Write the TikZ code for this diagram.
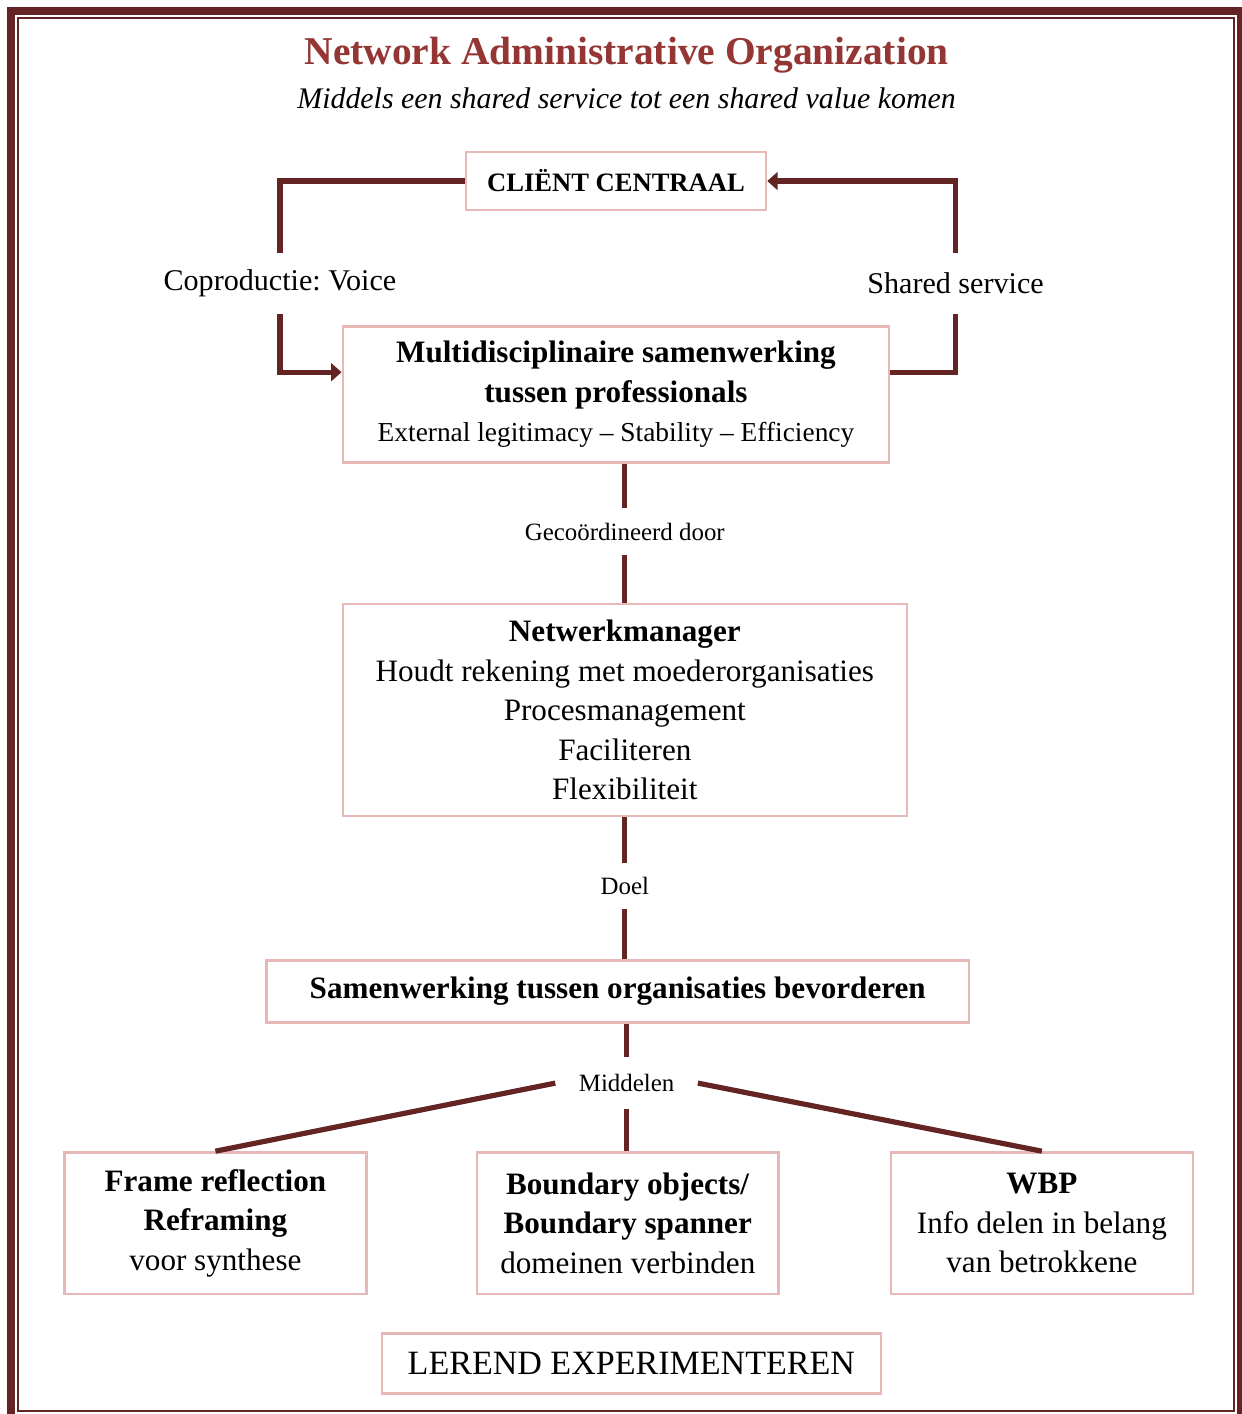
\documentclass[tikz,border=0pt]{standalone}
\usepackage{fontspec}
\setmainfont{Liberation Serif}
\usepackage{xcolor}
\usepackage{tikz}
\usetikzlibrary{arrows.meta, positioning, calc, backgrounds}
\definecolor{linkred}{RGB}{99, 36, 35}
\definecolor{boxline}{RGB}{230, 184, 183}
\definecolor{titlered}{RGB}{148, 54, 52}
\frenchspacing
\tikzset{
    font=\fontsize{15}{19}\selectfont,
    box/.style={rectangle, draw=boxline, line width=1.2pt, align=center, inner sep=0pt},
    smallbox/.style={box, minimum width=5.11cm, minimum height=2.40cm},
    link/.style={line width=2.5pt, draw=linkred},
    arrow/.style={link, -{Triangle[length=5pt, width=8.5pt]}},
    looplabel/.style={inner sep=0pt, minimum height=1.03cm, font=\fontsize{14.5}{17}\selectfont},
    edgelabel/.style={inner sep=0pt, font=\fontsize{12}{14}\selectfont},
    pageframe/.style={draw=linkred}
}

\begin{document}
\begin{tikzpicture}

    \useasboundingbox (0,0) rectangle (21.014,-23.943);

    % Title
    \node (natitle) [anchor=base, font=\fontsize{19}{23}\selectfont\bfseries, text=titlered] at (10.61,-1.10) {Network Administrative Organization};
    \node (nasub) [anchor=base, font=\fontsize{14.4}{17}\selectfont\itshape] at (10.61,-1.83) {Middels een shared service tot een shared value komen};

    % Client
    \node (client) [box, minimum width=5.08cm, minimum height=0.98cm, font=\fontsize{12.8}{16}\selectfont\bfseries] at (10.43,-3.065) {CLIËNT CENTRAAL};

    % Professionals
    \node (multi) [box, below=1.93cm of client, minimum width=9.25cm, minimum height=2.30cm] {\textbf{Multidisciplinaire samenwerking}\\\textbf{tussen professionals}\\{\fontsize{13.2}{19}\selectfont External legitimacy – Stability – Efficiency}};

    % Network manager
    \node (netman) [box, below=2.36cm of multi, xshift=0.15cm, minimum width=9.55cm, minimum height=3.59cm] {\textbf{Netwerkmanager}\\Houdt rekening met moederorganisaties\\Procesmanagement\\Faciliteren\\Flexibiliteit};

    % Goal
    \node (goal) [box, below=2.40cm of netman, xshift=-0.12cm, minimum width=11.89cm, minimum height=1.05cm, font=\fontsize{15}{19}\selectfont\bfseries] {Samenwerking tussen organisaties bevorderen};

    % Means
    \node (boundary) [smallbox, below=2.16cm of goal, xshift=0.17cm] {\textbf{Boundary objects/}\\\textbf{Boundary spanner}\\domeinen verbinden};
    \node (frame) [smallbox, left=1.83cm of boundary] {\textbf{Frame reflection}\\\textbf{Reframing}\\voor synthese};
    \node (wbp) [smallbox, right=1.86cm of boundary] {\textbf{WBP}\\Info delen in belang\\van betrokkene};

    % Learning
    \node (lerend) [box, below=0.62cm of boundary, xshift=0.06cm, minimum width=8.45cm, minimum height=1.02cm, font=\fontsize{16.4}{19}\selectfont] {LEREND EXPERIMENTEREN};

    % Connector labels
    \node (voice) [looplabel] at (4.74,-4.80) {Coproductie: Voice};
    \node (service) [looplabel] at (16.18,-4.80) {Shared service};
    \node (coord) [edgelabel, above=0.81cm of netman, minimum height=0.78cm] {Gecoördineerd door};
    \node (doel) [edgelabel, below=0.78cm of netman, minimum height=0.76cm] {Doel};
    \node (means) [edgelabel, below=0.56cm of goal, xshift=0.15cm, minimum width=2.40cm, minimum height=0.88cm] {Middelen};

    % Paths: Feedback Loop
    \coordinate (multiIn) at ($(multi.north west)!0.34!(multi.south west)$);
    \coordinate (multiOut) at ($(multi.north east)!0.34!(multi.south east)$);
    \draw [link] (client.west) -| (voice.north);
    \draw [arrow] (voice.south) |- (multiIn);
    \draw [link] (multiOut) -| (service.south);
    \draw [arrow] (service.north) |- (client.east);

    % Paths: Main Column
    \draw [link] (multi.south -| coord) -- (coord);
    \draw [link] (coord) -- (netman);
    \draw [link] (netman) -- (doel);
    \draw [link] (doel) -- (doel |- goal.north);
    \draw [link] (goal.south -| means) -- (means);
    \draw [link] (means) -- (means |- boundary.north);
    \draw [link] (means.west) -- (frame.north);
    \draw [link] (means.east) -- (wbp.north);

    % Page Border
    \begin{scope}[on background layer]
        \draw [pageframe, line width=3.84pt] (0.186,-0.186) rectangle (21.014,-24.011);
        \draw [pageframe, line width=1.1pt] (0.305,-0.305) rectangle (20.895,-23.893);
    \end{scope}

\end{tikzpicture}
\end{document}
